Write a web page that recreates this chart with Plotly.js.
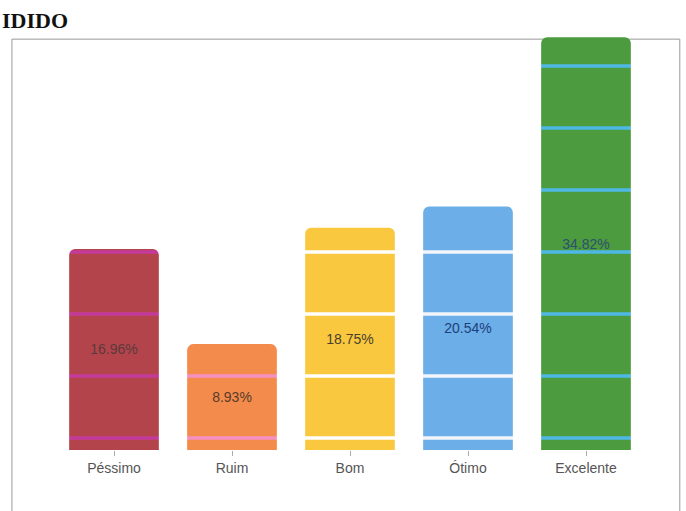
<!DOCTYPE html>
<html><head><meta charset="utf-8">
<script src="https://cdn.plot.ly/plotly-3.0.1.min.js"></script>
<style>html,body{margin:0;padding:0;background:#fff;}#chart{width:686px;height:511px;}</style>
</head><body><div id="chart"></div>
<script>
const categories = ['Péssimo', 'Ruim', 'Bom', 'Ótimo', 'Excelente'];
const values = [16.96, 8.93, 18.75, 20.54, 34.82];
const barColors = ['#B4444C', '#F28B4C', '#F9C83E', '#6BAEE8', '#4C9B3E'];
const stripeColors = ['#C43A9C', '#F690C4', '#FFFFFF', '#F2F6FA', '#4DB8E6'];
const labelColors = ['#5a3a3a', '#5a3a2a', '#4a4030', '#1f3f7a', '#2f4f6f'];

const traces = categories.map((c, i) => ({
  type: 'bar',
  x: [c],
  y: [values[i]],
  text: [values[i].toFixed(2) + '%'],
  textposition: 'inside',
  insidetextanchor: 'middle',
  textangle: 0,
  textfont: {family: 'Liberation Sans, Arial, sans-serif', size: 14, color: labelColors[i]},
  marker: {
    color: barColors[i],
    cornerradius: 6,
    line: {width: 0},
    pattern: {shape: '-', fgcolor: stripeColors[i], size: 62, solidity: 0.055, fillmode: 'overlay', fgopacity: 1}
  },
  hoverinfo: 'none'
}));

const layout = {
  width: 686, height: 511,
  margin: {l: 55, r: 41, t: 35, b: 61},
  paper_bgcolor: '#fff', plot_bgcolor: '#fff',
  showlegend: false,
  barmode: 'overlay',
  bargap: 0.24,
  title: {text: '<b>IDIDO</b>', x: 0, xanchor: 'left', xref: 'container', y: 0.975, yanchor: 'top',
          pad: {l: 2}, font: {family: 'Liberation Serif, serif', size: 22, color: '#111'}},
  xaxis: {
    type: 'category', showgrid: false, zeroline: false, showline: false,
    categoryorder: 'array', categoryarray: categories,
    ticks: 'outside', ticklen: 5, tickcolor: '#aaa',
    tickfont: {family: 'Liberation Sans, Arial, sans-serif', size: 14, color: '#555'}
  },
  yaxis: {range: [0, 35], visible: false, showgrid: false, zeroline: false},
  shapes: [{type: 'rect', xref: 'paper', yref: 'paper', x0: -0.073, x1: 1.059, y0: -0.16, y1: 0.99,
            line: {color: '#999', width: 1}, fillcolor: 'rgba(0,0,0,0)', layer: 'below'}]
};

Plotly.newPlot('chart', traces, layout, {displayModeBar: false, staticPlot: true});
</script></body></html>
